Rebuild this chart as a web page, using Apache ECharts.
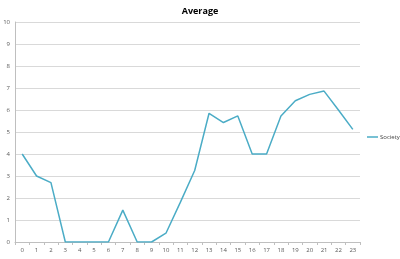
<!DOCTYPE html>
<html><head><meta charset="utf-8">
<script src="https://cdn.jsdelivr.net/npm/echarts@6/dist/echarts.min.js"></script>
<style>html,body{margin:0;padding:0;background:#fff}#c{width:400px;height:259px}</style>
</head><body><div id="c"></div>
<script>
const categories = ['0','1','2','3','4','5','6','7','8','9','10','11','12','13','14','15','16','17','18','19','20','21','22','23'];
const societyValues = [4, 3, 2.7, 0, 0, 0, 0, 1.45, 0, 0, 0.4, 1.8, 3.25, 5.85, 5.43, 5.73, 4, 4, 5.73, 6.42, 6.71, 6.86, 6.0, 5.12];
const seriesName = 'Society';
const titleText = 'Average';

const chart = echarts.init(document.getElementById('c'));
chart.setOption({
  animation: false,
  backgroundColor: '#fff',
  title: { text: titleText, left: 'center', top: 2, textStyle: { fontFamily: 'Open Sans', fontSize: 9, fontWeight: 'bold', color: '#000' } },
  legend: { orient: 'vertical', left: 367, top: 134, width: 60, padding: 0, itemWidth: 11, itemHeight: 1.5, itemGap: 4,
    textStyle: { fontFamily: 'Open Sans', fontSize: 6, color: '#404040', padding: [0, 0, 0, -3] },
    data: [{ name: seriesName, icon: 'rect', itemStyle: { color: '#4bacc6' } }] },
  grid: { left: 15, right: 40, top: 22, bottom: 17, containLabel: false },
  xAxis: {
    type: 'category', data: categories, boundaryGap: true,
    axisLine: { lineStyle: { color: '#bfbfbf' } },
    axisTick: { show: true, length: 3, lineStyle: { color: '#bfbfbf' } },
    axisLabel: { fontFamily: 'Open Sans', fontSize: 6, color: '#595959', margin: 5, interval: 0 }
  },
  yAxis: {
    type: 'value', min: 0, max: 10, interval: 1,
    axisLine: { show: true, lineStyle: { color: '#bfbfbf' } },
    axisTick: { show: false },
    axisLabel: { fontFamily: 'Open Sans', fontSize: 6, color: '#595959', margin: 5 },
    splitLine: { lineStyle: { color: '#d9d9d9', width: 1 } }
  },
  series: [{ name: seriesName, type: 'line', data: societyValues, symbol: 'none', lineStyle: { color: '#4bacc6', width: 1.5 }, itemStyle: { color: '#4bacc6' } }]
});
</script></body></html>
